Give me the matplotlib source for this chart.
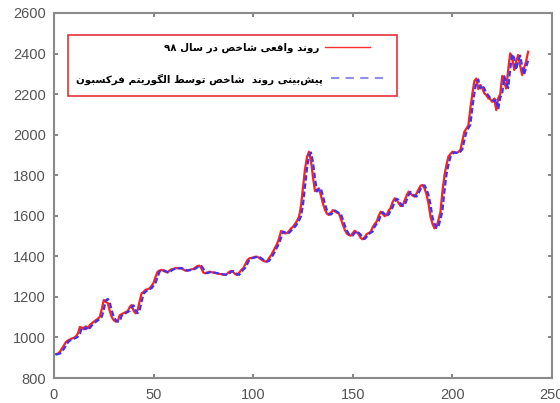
import re
import numpy as np
import matplotlib
matplotlib.use("Agg")
import matplotlib.pyplot as plt
from matplotlib.patches import Rectangle

# actual index values (red) and predicted values (blue dashed)
actual = [
    918, 920, 930, 945, 962, 978, 985, 990, 995, 998,
    1005, 1020, 1052, 1048, 1040, 1055, 1045, 1062, 1070, 1078,
    1085, 1092, 1102, 1140, 1185, 1175, 1170, 1130, 1100, 1085,
    1078, 1080, 1110, 1115, 1120, 1125, 1130, 1150, 1160, 1130,
    1119, 1135, 1180, 1218, 1225, 1235, 1238, 1242, 1255, 1270,
    1300, 1324, 1330, 1333, 1328, 1324, 1320, 1330, 1336, 1338,
    1342, 1341, 1343, 1340, 1335, 1329, 1330, 1333, 1336, 1338,
    1345, 1352, 1354, 1340, 1320, 1316, 1320, 1324, 1322, 1320,
    1318, 1315, 1313, 1312, 1310, 1308, 1315, 1324, 1328, 1322,
    1312, 1308, 1320, 1333, 1341, 1360, 1380, 1390, 1392, 1394,
    1398, 1398, 1392, 1385, 1378, 1374, 1376, 1392, 1406, 1425,
    1445, 1462, 1490, 1525, 1520, 1513, 1515, 1525, 1538, 1546,
    1560, 1575, 1595, 1650, 1740, 1830, 1890, 1916, 1870, 1790,
    1722, 1728, 1735, 1700, 1660, 1630, 1610, 1604, 1615, 1628,
    1622, 1615, 1612, 1585, 1556, 1530, 1512, 1505, 1502, 1515,
    1526, 1518, 1508, 1490, 1484, 1495, 1510, 1515, 1521, 1545,
    1560, 1572, 1600, 1620, 1610, 1598, 1605, 1625, 1640, 1668,
    1686, 1680, 1662, 1648, 1650, 1675, 1700, 1719, 1710, 1700,
    1694, 1710, 1730, 1748, 1752, 1735, 1705, 1660, 1595, 1560,
    1538, 1545, 1580, 1620, 1720, 1800, 1850, 1892, 1905, 1916,
    1912, 1910, 1915, 1925, 1970, 2015, 2030, 2045, 2130, 2200,
    2265, 2277, 2225, 2245, 2230, 2204, 2195, 2180, 2175, 2162,
    2178, 2121, 2180, 2200, 2290, 2260, 2228, 2320, 2401, 2380,
    2319, 2360, 2393, 2340, 2294, 2330, 2362, 2409,
]
predicted = [
    915, 918, 921, 930, 944, 960, 976, 985, 990, 994,
    998, 1004, 1018, 1050, 1049, 1041, 1054, 1046, 1060, 1069,
    1077, 1084, 1092, 1102, 1138, 1182, 1190, 1172, 1132, 1102,
    1086, 1078, 1080, 1108, 1116, 1120, 1125, 1131, 1150, 1158,
    1132, 1120, 1134, 1178, 1216, 1226, 1234, 1238, 1243, 1256,
    1270, 1298, 1325, 1330, 1332, 1327, 1323, 1320, 1330, 1336,
    1338, 1342, 1340, 1342, 1339, 1334, 1330, 1331, 1333, 1336,
    1339, 1346, 1352, 1352, 1338, 1320, 1317, 1321, 1324, 1321,
    1319, 1317, 1315, 1313, 1311, 1310, 1309, 1316, 1324, 1327,
    1320, 1311, 1309, 1322, 1334, 1343, 1362, 1381, 1390, 1392,
    1395, 1398, 1397, 1391, 1384, 1377, 1374, 1378, 1393, 1407,
    1426, 1446, 1464, 1492, 1522, 1518, 1512, 1516, 1526, 1538,
    1546, 1560, 1576, 1598, 1655, 1745, 1832, 1895, 1912, 1865,
    1785, 1720, 1730, 1733, 1698, 1658, 1628, 1610, 1606, 1616,
    1626, 1620, 1614, 1610, 1582, 1552, 1528, 1510, 1505, 1503,
    1516, 1525, 1516, 1506, 1488, 1486, 1497, 1510, 1516, 1523,
    1546, 1561, 1574, 1602, 1618, 1608, 1598, 1607, 1626, 1642,
    1669, 1684, 1678, 1660, 1648, 1652, 1676, 1701, 1717, 1708,
    1699, 1695, 1711, 1731, 1747, 1750, 1732, 1702, 1656, 1592,
    1562, 1540, 1548, 1582, 1625, 1722, 1802, 1852, 1890, 1904,
    1914, 1910, 1911, 1916, 1928, 1972, 2013, 2032, 2048, 2132,
    2202, 2262, 2272, 2228, 2243, 2228, 2205, 2194, 2181, 2174,
    2164, 2176, 2125, 2182, 2203, 2288, 2258, 2230, 2322, 2398,
    2378, 2320, 2362, 2390, 2338, 2296, 2332, 2365,
]
days = np.arange(1, len(actual) + 1)

label_actual = "روند واقعی شاخص در سال ۹۸"
label_pred = "پیش‌بینی روند  شاخص توسط الگوریتم فرکسبون"

# contextual forms: isolated, final, initial, medial
FORMS = {
    "ا": ("\uFE8D", "\uFE8E"), "د": ("\uFEA9", "\uFEAA"),
    "ر": ("\uFEAD", "\uFEAE"), "و": ("\uFEED", "\uFEEE"),
    "ب": ("\uFE8F", "\uFE90", "\uFE91", "\uFE92"),
    "ت": ("\uFE95", "\uFE96", "\uFE97", "\uFE98"),
    "خ": ("\uFEA5", "\uFEA6", "\uFEA7", "\uFEA8"),
    "س": ("\uFEB1", "\uFEB2", "\uFEB3", "\uFEB4"),
    "ش": ("\uFEB5", "\uFEB6", "\uFEB7", "\uFEB8"),
    "ص": ("\uFEB9", "\uFEBA", "\uFEBB", "\uFEBC"),
    "ط": ("\uFEC1", "\uFEC2", "\uFEC3", "\uFEC4"),
    "ع": ("\uFEC9", "\uFECA", "\uFECB", "\uFECC"),
    "ف": ("\uFED1", "\uFED2", "\uFED3", "\uFED4"),
    "ق": ("\uFED5", "\uFED6", "\uFED7", "\uFED8"),
    "ل": ("\uFEDD", "\uFEDE", "\uFEDF", "\uFEE0"),
    "م": ("\uFEE1", "\uFEE2", "\uFEE3", "\uFEE4"),
    "ن": ("\uFEE5", "\uFEE6", "\uFEE7", "\uFEE8"),
    "پ": ("\uFB56", "\uFB57", "\uFB58", "\uFB59"),
    "ک": ("\uFB8E", "\uFB8F", "\uFB90", "\uFB91"),
    "گ": ("\uFB92", "\uFB93", "\uFB94", "\uFB95"),
    "ی": ("\uFBFC", "\uFBFD", "\uFBFE", "\uFBFF"),
}


def shape(s):
    out = []
    for i, ch in enumerate(s):
        if ch not in FORMS:
            out.append(ch)
            continue
        prev = s[i - 1] if i > 0 else ""
        nxt = s[i + 1] if i + 1 < len(s) else ""
        join_prev = prev in FORMS and len(FORMS[prev]) == 4
        join_next = len(FORMS[ch]) == 4 and nxt in FORMS
        f = FORMS[ch]
        if join_prev and join_next:
            out.append(f[3])
        elif join_prev:
            out.append(f[1])
        elif join_next:
            out.append(f[2])
        else:
            out.append(f[0])
    vis = "".join(out).replace("\u200c", "")[::-1]
    return re.sub(r"[۰-۹0-9]+", lambda m: m.group(0)[::-1], vis)


fig = plt.figure(figsize=(5.6, 4.03), dpi=100)
ax = fig.add_axes([54 / 560, 25 / 403, 498 / 560, 365 / 403])

ax.plot(days, actual, color="#ff2020", lw=1.6)
ax.plot(days, predicted, color="#3535ff", lw=1.6, ls=(0, (2.5, 1.2)))

ax.set_xlim(0, 250)
ax.set_ylim(800, 2600)
ax.set_xticks(range(0, 251, 50))
ax.set_yticks(range(800, 2601, 200))
for s in ax.spines.values():
    s.set_color("#8a8a8a")
    s.set_linewidth(1.5)
ax.tick_params(direction="in", length=3, width=1.2, color="#707070",
               top=True, right=True, labelcolor="#555555")
ax.tick_params(axis="x", pad=7)
ax.tick_params(axis="y", pad=6)
for lab in ax.get_xticklabels() + ax.get_yticklabels():
    lab.set_family("Liberation Sans")
    lab.set_fontsize(10.5)

# legend box, right-to-left layout
W, H = 498.0, 365.0
def ax_xy(px, py):
    return ((px - 54) / W, (378 - py) / H)

x0, y0 = ax_xy(68, 96)
x1, y1 = ax_xy(397, 35)
ax.add_patch(Rectangle((x0, y0), x1 - x0, y1 - y0, transform=ax.transAxes,
                       fill=True, facecolor="white", edgecolor="#e8303a", lw=1.2, zorder=5))
tx, ty = ax_xy(319, 48)
ax.text(tx, ty, shape(label_actual), transform=ax.transAxes, ha="right", va="center",
        fontsize=7.4, fontweight="bold", family="DejaVu Sans", zorder=6)
lx0, ly = ax_xy(325, 47)
lx1, _ = ax_xy(370, 47)
ax.plot([lx0, lx1], [ly, ly], transform=ax.transAxes, color="#ff3030", lw=1, zorder=6)
tx, ty = ax_xy(323, 79)
ax.text(tx, ty, shape(label_pred), transform=ax.transAxes, ha="right", va="center",
        fontsize=7.4, fontweight="bold", family="DejaVu Sans", zorder=6)
lx0, ly = ax_xy(331, 78)
lx1, _ = ax_xy(384, 78)
ax.plot([lx0, lx1], [ly, ly], transform=ax.transAxes, color="#9090e8", lw=1.5,
        ls=(0, (4, 3)), zorder=6)

fig.savefig("out.png", dpi=100)
